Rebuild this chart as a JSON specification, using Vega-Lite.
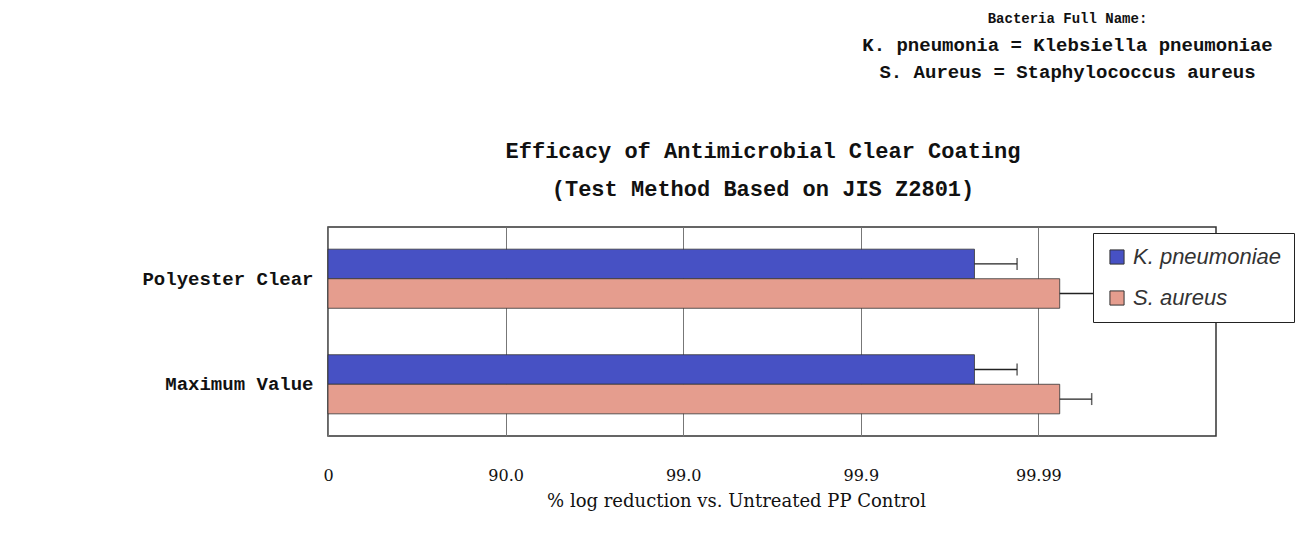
{
  "$schema": "https://vega.github.io/schema/vega-lite/v6.json",
  "background": "white",
  "padding": {"left": 141, "top": 12, "right": 0, "bottom": 20},
  "title": {
    "text": "Bacteria Full Name:",
    "subtitle": ["K. pneumonia = Klebsiella pneumoniae", "S. Aureus = Staphylococcus aureus"],
    "anchor": "end",
    "frame": "bounds",
    "align": "center",
    "dx": -227,
    "font": "Liberation Mono",
    "fontSize": 14,
    "fontWeight": "bold",
    "color": "#111",
    "subtitleFont": "Liberation Mono",
    "subtitleFontSize": 19,
    "subtitleFontWeight": "bold",
    "subtitleColor": "#111",
    "subtitleLineHeight": 27,
    "subtitlePadding": 10,
    "offset": 57
  },
  "vconcat": [
    {
      "width": 888,
      "height": 209,
      "title": {
        "text": ["Efficacy of Antimicrobial Clear Coating", "(Test Method Based on JIS Z2801)"],
        "font": "Liberation Mono",
        "fontSize": 22,
        "fontWeight": "bold",
        "lineHeight": 38,
        "anchor": "middle",
        "frame": "group",
        "dx": -9,
        "offset": 26,
        "color": "#111"
      },
      "data": {
        "values": [
          {"material": "Polyester Clear", "organism": "K. pneumoniae", "value": 3.64, "upper": 3.88},
          {"material": "Polyester Clear", "organism": "S. aureus", "value": 4.12, "upper": 4.42},
          {"material": "Maximum Value", "organism": "K. pneumoniae", "value": 3.64, "upper": 3.88},
          {"material": "Maximum Value", "organism": "S. aureus", "value": 4.12, "upper": 4.3}
        ]
      },
      "encoding": {
        "y": {
          "field": "material",
          "type": "nominal",
          "sort": ["Polyester Clear", "Maximum Value"],
          "scale": {"paddingInner": 0.44, "paddingOuter": 0.21},
          "axis": {
            "title": null,
            "domain": false,
            "ticks": false,
            "labelFont": "Liberation Mono",
            "labelFontWeight": "bold",
            "labelFontSize": 19,
            "labelPadding": 15,
            "labelColor": "#111"
          }
        },
        "yOffset": {
          "field": "organism",
          "type": "nominal",
          "sort": ["K. pneumoniae", "S. aureus"],
          "scale": {"paddingInner": 0, "paddingOuter": 0}
        }
      },
      "layer": [
        {
          "mark": {"type": "bar", "stroke": "#333", "strokeWidth": 0.8},
          "encoding": {
            "x": {
              "field": "value",
              "type": "quantitative",
              "scale": {"domain": [0, 5], "nice": false, "zero": true},
              "axis": {
                "values": [0, 1, 2, 3, 4],
                "labelExpr": "['0','90.0','99.0','99.9','99.99'][datum.value]",
                "grid": true,
                "gridColor": "#777",
                "gridWidth": 1,
                "domain": false,
                "ticks": false,
                "labelFont": "DejaVu Serif",
                "labelFontSize": 16,
                "labelColor": "#111",
                "labelPadding": 31,
                "labelFlush": false,
                "title": "% log reduction vs. Untreated PP Control",
                "titleFont": "DejaVu Serif",
                "titleFontSize": 18,
                "titleFontWeight": "normal",
                "titleColor": "#111",
                "titlePadding": 9,
                "titleX": 408,
                "titleAlign": "center"
              }
            },
            "color": {
              "field": "organism",
              "type": "nominal",
              "scale": {"domain": ["K. pneumoniae", "S. aureus"], "range": ["#4751c4", "#e59d8e"]},
              "legend": {
                "title": null,
                "orient": "none",
                "legendX": 765,
                "legendY": 6,
                "fillColor": "white",
                "strokeColor": "#222",
                "padding": 13,
                "symbolType": "square",
                "symbolSize": 200,
                "symbolStrokeColor": "#333",
                "symbolStrokeWidth": 1,
                "symbolOpacity": 1,
                "labelFont": "Liberation Sans",
                "labelFontStyle": "italic",
                "labelFontSize": 22,
                "labelColor": "#333",
                "labelOffset": 5,
                "rowPadding": 19
              }
            }
          }
        },
        {
          "mark": {"type": "rule", "color": "#222", "strokeWidth": 1.3},
          "encoding": {
            "x": {"field": "value", "type": "quantitative"},
            "x2": {"field": "upper"}
          }
        },
        {
          "mark": {"type": "tick", "color": "#222", "thickness": 1.5, "size": 12},
          "encoding": {
            "x": {"field": "upper", "type": "quantitative"}
          }
        }
      ]
    }
  ],
  "config": {
    "view": {"stroke": "#333", "strokeWidth": 1.5}
  }
}
